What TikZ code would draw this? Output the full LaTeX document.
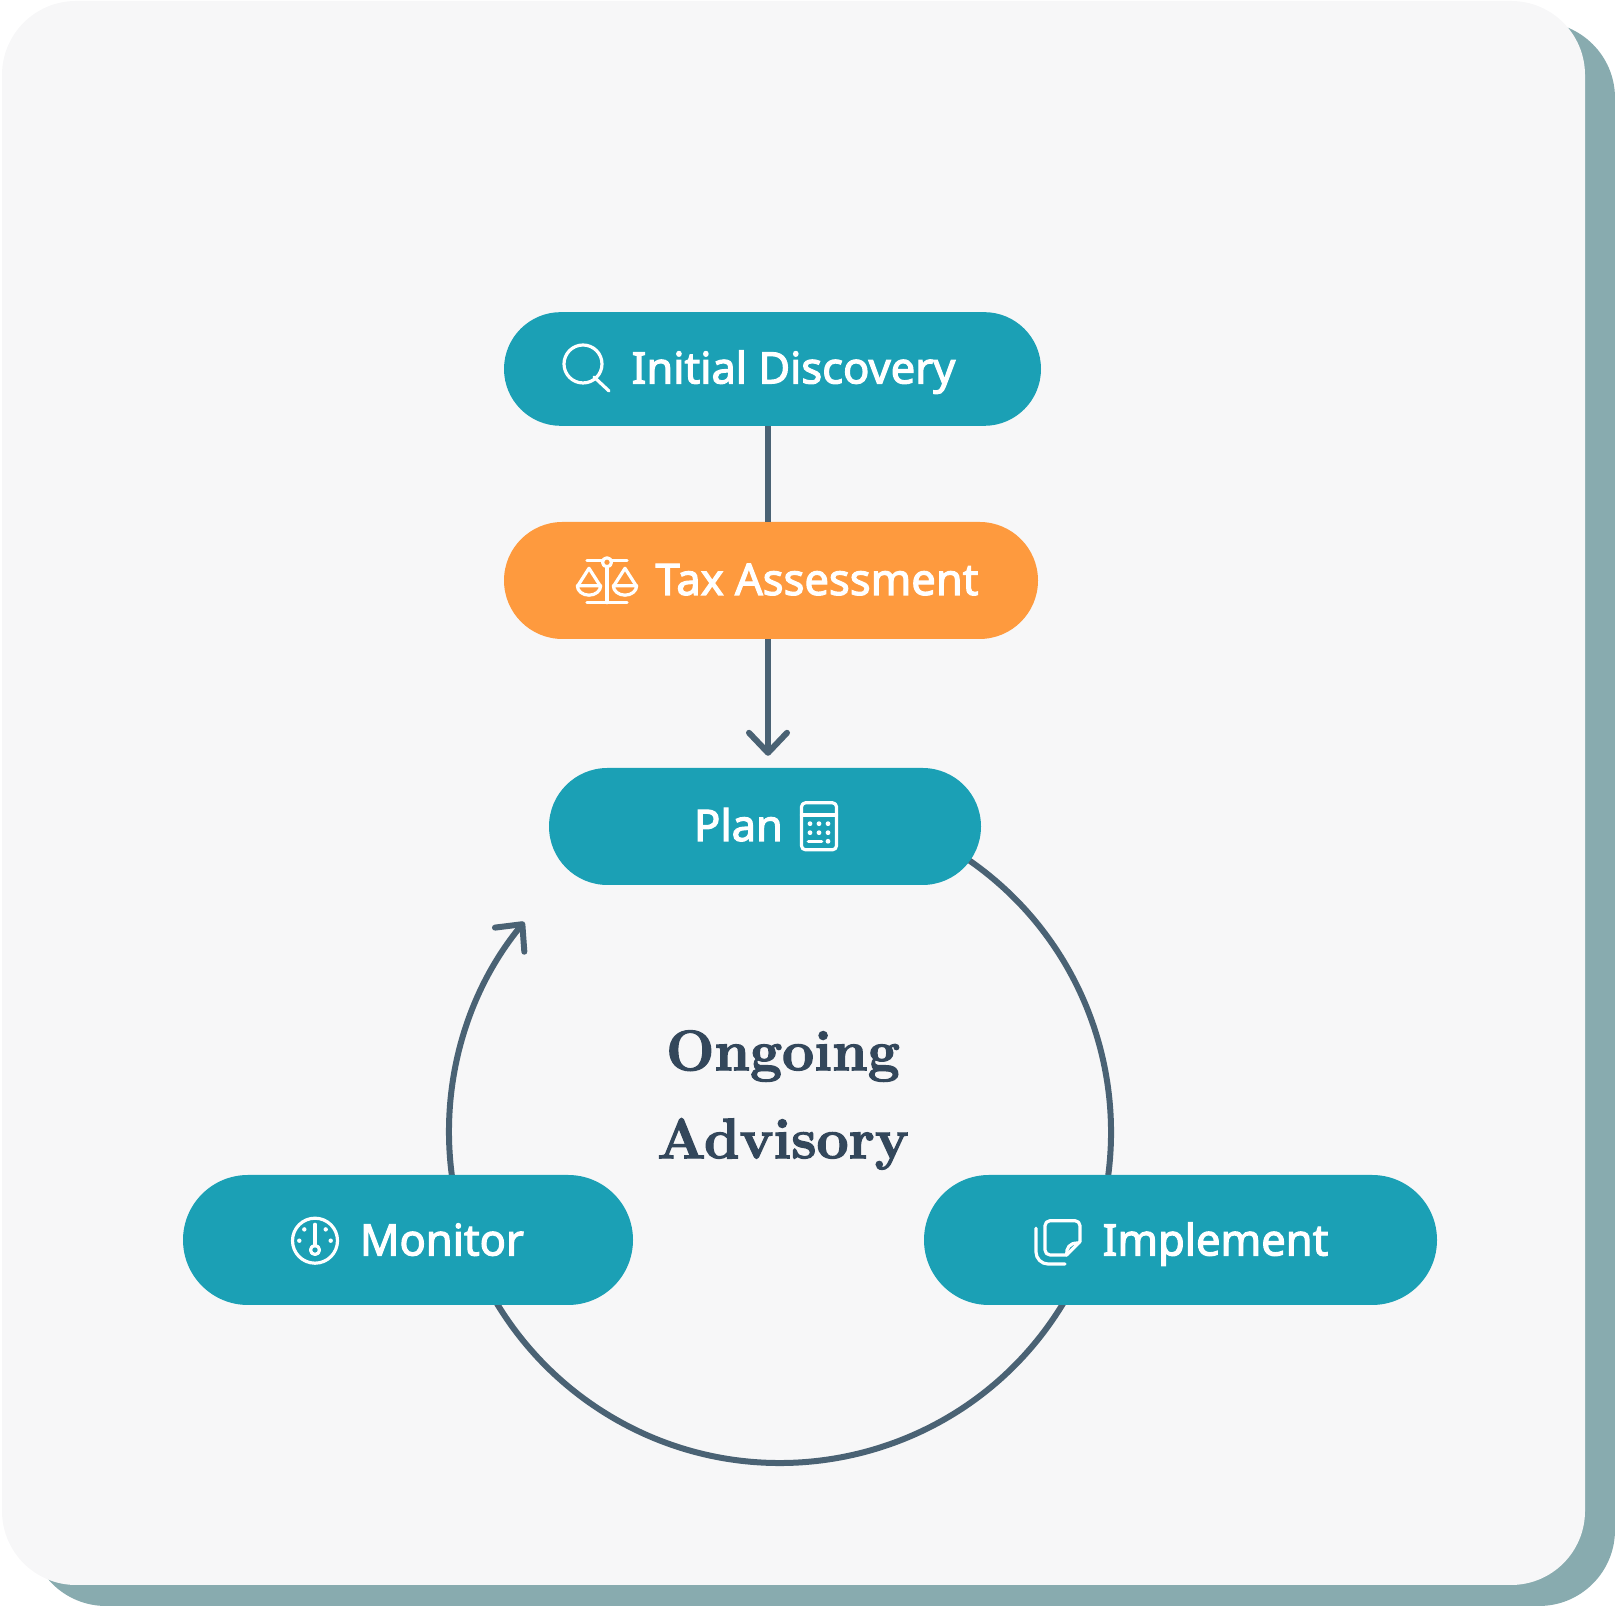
\documentclass[tikz,border=0pt]{standalone}
\usepackage{fontspec}
\usepackage{tikz}
\usetikzlibrary{arrows.meta, shapes.misc}
\newfontfamily\pillfont[FakeBold=2.6]{Noto Sans}
\newfontfamily\titlefont[BoldFeatures={FakeBold=2.2}]{Latin Modern Roman}
\definecolor{card_bg}{HTML}{F7F7F8}
\definecolor{card_shadow}{HTML}{88ABAF}
\definecolor{pill_teal}{HTML}{1BA0B5}
\definecolor{pill_orange}{HTML}{FE9A3E}
\definecolor{flow_grey}{HTML}{4A6274}
\definecolor{title_ink}{HTML}{33475B}

\begin{document}
\begin{tikzpicture}[x=1pt,y=1pt,
pill_node/.style={rounded rectangle,fill=pill_teal,inner sep=0pt,text=white,text height=35pt,text depth=6pt,font=\pillfont\fontsize{43.5}{45}\selectfont},
flow_line/.style={draw=flow_grey,line width=6pt},
flow_tip/.style={-{Straight Barb[length=20pt,width=38pt,round]}},
icon_line/.style={draw=white,line width=3.2pt,line cap=round,line join=round},
icon_dot/.style={fill=white}]

\useasboundingbox (0,0) rectangle (1615,1606);
\fill[card_shadow,rounded corners=76pt] (30,0) rectangle (1615,1584);
\fill[card_bg,rounded corners=74pt] (2,21) rectangle (1585,1605);

\coordinate (axis) at (768,800);
\coordinate (ring_plan) at (780+331*cos 57,474+331*sin 57);
\coordinate (ring_monitor) at (780+331*cos 190,474+331*sin 190);

% the ring goes under the pills
\draw[flow_line] (ring_plan) arc[start angle=57,end angle=-155,radius=331];
\draw[flow_line,flow_tip] (ring_monitor) arc[start angle=190,end angle=140.6,radius=331];

\node[pill_node,minimum width=537pt,minimum height=113.7pt] (discovery) at (772.5,1237) {\hspace*{42pt}Initial Discovery};
\node[pill_node,minimum width=534pt,minimum height=117pt,fill=pill_orange] (tax) at (771,1025.5) {\hspace*{92pt}Tax Assessment};
\node[pill_node,minimum width=432pt,minimum height=117pt] (plan) at (765,779.5) {Plan\hspace*{53pt}};
\node[pill_node,minimum width=450pt,minimum height=130pt,text depth=4pt] (monitor) at (408,366) {\hspace*{68pt}Monitor};
\node[pill_node,minimum width=513pt,minimum height=130pt,text depth=4pt] (implement) at (1180.5,366) {\hspace*{70pt}Implement};

\path[flow_line]
(discovery.south -| axis) edge (tax.north -| axis)
(tax.south -| axis) edge[flow_tip,shorten >=12pt] (plan.north -| axis);

\node[font=\titlefont\bfseries\fontsize{57}{88}\selectfont,text=title_ink,align=center] (advisory) at (783,506) {Ongoing\\Advisory};

% magnifier
\begin{scope}[shift={(583,1242)}]
\draw[icon_line] (0,0) circle (19);
\draw[icon_line] (11,-13) -- (26,-27);
\end{scope}

% scales
\begin{scope}[shift={(607,1025)}]
\draw[icon_line] (-20,20.7) -- (-5,20.7) (5,20.7) -- (20,20.7) (0,14) -- (0,-21.7) (-20,-21.7) -- (20,-21.7);
\draw[icon_line] (0,18.7) circle (4.5);
\foreach \i in {-18,18}{
\draw[icon_line] (\i-11.7,-4.7) arc[start angle=180,end angle=360,x radius=11.7,y radius=9.5] -- cycle;
\draw[icon_line] (\i-10.5,-3.7) -- (\i,12.7) -- (\i+10.5,-3.7);
}
\end{scope}

% calculator
\begin{scope}[shift={(819,779.7)}]
\draw[icon_line,rounded corners=4pt] (-17.5,-23.5) rectangle (17.5,23.5);
\draw[icon_line] (-17.5,11.3) -- (17.5,11.3);
\draw[icon_line] (-10.7,-15) -- (2.7,-15);
\foreach \i/\j in {-9/2.6,0/2.6,9/2.6,-9/-6.4,0/-6.4,9/-6.4,9/-15}{
\fill[icon_dot] (\i,\j) circle (2.4);
}
\end{scope}

% gauge
\begin{scope}[shift={(315,365.3)}]
\draw[icon_line] (0,0) circle (22.5);
\draw[icon_line] (0,16.4) -- (0,-5);
\draw[icon_line] (0,-9.3) circle (4.5);
\foreach \i/\j in {-15.7/0,-10.7/11.3,10.7/11.3,15.7/0}{
\fill[icon_dot] (\i,\j) circle (2.2);
}
\end{scope}

% notes
\begin{scope}[shift={(1062.5,368)}]
\draw[icon_line,rounded corners=5pt] (4.2,-17) -- (-17.5,-17) -- (-17.5,17.3) -- (17.5,17.3) -- (17.5,-3.7);
\draw[icon_line] (4.2,-17) -- (17.5,-3.7);
\draw[icon_line] (4.2,-17) .. controls (3.5,-10) and (7,-5) .. (15,-5);
\draw[icon_line,rounded corners=12pt] (-26.5,9.7) -- (-26.5,-26) -- (2.5,-26);
\end{scope}

\end{tikzpicture}
\end{document}
